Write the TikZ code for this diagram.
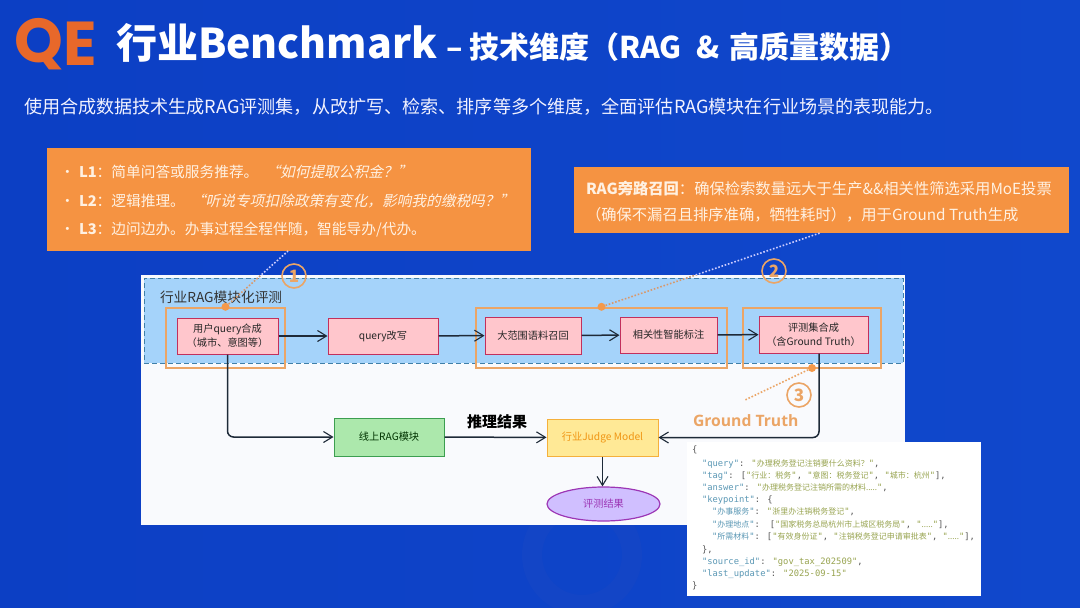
\documentclass[tikz,border=0pt]{standalone}
\usepackage{fontspec}
\usetikzlibrary{arrows.meta,shapes.geometric,calc}
\setmainfont{Noto Sans CJK SC}
\newfontfamily\cjkit[FakeSlant=0.22]{Noto Sans CJK SC}
\newfontfamily\jmono{DejaVu Sans Mono}
\newfontfamily\cj{Noto Sans CJK SC}
\newfontfamily\logof{Poppins}[BoldFont={Poppins Bold}]
\newfontfamily\gtf{Open Sans}
\definecolor{bgblue}{HTML}{0C3FC4}
\definecolor{bgblue2}{HTML}{1048CC}
\definecolor{wmark}{HTML}{1345C6}
\definecolor{logoor}{HTML}{E8682A}
\definecolor{boxor}{HTML}{F59342}
\definecolor{boxtxt}{HTML}{FFF1E2}
\definecolor{panel}{HTML}{F9FAFD}
\definecolor{evalblue}{HTML}{A5D3FA}
\definecolor{dashblue}{HTML}{3F7FA8}
\definecolor{hilite}{HTML}{EBA566}
\definecolor{dotor}{HTML}{F4994A}
\definecolor{arrowk}{HTML}{1E2A38}
\definecolor{pinkf}{HTML}{FFC6CC}
\definecolor{pinkd}{HTML}{C2305C}
\definecolor{keyc}{HTML}{5B98B5}
\definecolor{strc}{HTML}{98A450}
\definecolor{pnc}{HTML}{555555}
\definecolor{greenf}{HTML}{ACE8AC}
\definecolor{greend}{HTML}{3C9E50}
\definecolor{yellowf}{HTML}{FFE996}
\definecolor{yellowd}{HTML}{F5B03C}
\definecolor{yellowt}{HTML}{F09614}
\definecolor{purpf}{HTML}{D0BFFF}
\definecolor{purpd}{HTML}{9C36B5}
\newcommand{\K}[1]{\textcolor{keyc}{#1}}
\newcommand{\St}[1]{\textcolor{strc}{#1}}
\newcommand{\Cj}[1]{{\cj\fontsize{8}{8}\selectfont #1}}
\tikzset{
  txt/.style={inner sep=0pt,outer sep=0pt,anchor=west},
  lead/.style={txt,text=boxtxt,font=\fontsize{14.7}{14.7}\selectfont},
  lead2/.style={txt,text=boxtxt,font=\fontsize{15.3}{15.3}\selectfont},
  logot/.style={txt,text=logoor,font=\logof\bfseries\fontsize{62}{62}\selectfont},
  pinkbox/.style={draw=pinkd,fill=pinkf,line width=1pt,inner sep=0pt,align=center,text=black!85,font=\fontsize{10.2}{14}\selectfont},
  hibox/.style={draw=hilite,line width=2.4pt,fill=none},
  flow/.style={draw=arrowk,line width=1.5pt,-{Straight Barb[length=9pt,width=11pt,line width=1.1pt]}},
  dotline/.style={line width=1.6pt,dash pattern=on 1.6pt off 1.8pt},
  numc/.style={circle,draw=hilite,line width=1.6pt,text=hilite,minimum size=24pt,inner sep=0pt,font=\fontsize{17}{17}\selectfont\bfseries},
  jline/.style={txt,text=pnc,font=\jmono\fontsize{8.8}{8.8}\selectfont},
  hdot/.style={circle,fill=dotor,minimum size=8pt,inner sep=0pt},
}
\begin{document}
\begin{tikzpicture}[x=1pt,y=-1pt]
\useasboundingbox (0,0) rectangle (1080,608);
\shade[left color=bgblue,right color=bgblue2] (0,0) rectangle (1080,608);
\draw[wmark,line width=20pt] (582,555) circle[radius=50pt];
% logo
\node[logot] (logoq) at (14,44) {Q};
\node[logot] (logoe) at (63.5,43.5) {E};
% title
\node[txt,text=white,font=\bfseries\fontsize{41}{41}\selectfont] (title) at (116,43) {行业Benchmark};
\node[txt,text=white,font=\bfseries\fontsize{30}{30}\selectfont] (subt) at (446,47) {– 技术维度（RAG\,\,\,\&\,\,高质量数据）};
\node[txt,text=white!95!blue,font=\fontsize{18.1}{18.1}\selectfont] (intro) at (24,107) {使用合成数据技术生成RAG评测集，从改扩写、检索、排序等多个维度，全面评估RAG模块在行业场景的表现能力。};
% orange boxes
\node[draw=none,fill=boxor,inner sep=0pt,minimum width=484pt,minimum height=103pt] (note1) at (289,199.5) {};
\node[lead] (l1) at (60,172) {\makebox[19pt][l]{•}\textbf{L1}：简单问答或服务推荐。\hspace{7pt}{\cjkit “如何提取公积金？”}};
\node[lead] (l2) at (60,201) {\makebox[19pt][l]{•}\textbf{L2}：逻辑推理。\hspace{6pt}{\cjkit “听说专项扣除政策有变化，影响我的缴税吗？”}};
\node[lead] (l3) at (60,230) {\makebox[19pt][l]{•}\textbf{L3}：边问边办。办事过程全程伴随，智能导办/代办。};
\node[draw=none,fill=boxor,inner sep=0pt,minimum width=495pt,minimum height=66pt] (note2) at (821.5,200) {};
\node[lead2] (r1) at (586,189) {\textbf{RAG旁路召回}：确保检索数量远大于生产\&\&相关性筛选采用MoE投票};
\node[lead2] (r2) at (586,215) {（确保不漏召且排序准确，牺牲耗时），用于Ground Truth生成};
% panel
\node[fill=panel,draw=none,inner sep=0pt,minimum width=764pt,minimum height=250pt] (panel) at (523,400) {};
\node[fill=evalblue,draw=dashblue,dash pattern=on 5pt off 3pt,line width=1pt,inner sep=0pt,minimum width=759pt,minimum height=85pt] (eval) at (523.5,320.5) {};
\node[txt,text=black!80,font=\fontsize{13.7}{13.7}\selectfont] (evallab) at (160,297) {行业RAG模块化评测};
% highlight rects
\node[hibox,inner sep=0pt,minimum width=119pt,minimum height=60pt] (h1) at (225.5,338) {};
\node[hibox,inner sep=0pt,minimum width=251pt,minimum height=60pt] (h2) at (601.5,338) {};
\node[hibox,inner sep=0pt,minimum width=138pt,minimum height=60pt] (h3) at (812,338) {};
% flow boxes
\node[pinkbox,minimum width=101pt,minimum height=36pt] (user) at (227.5,336) {用户query合成\\（城市、意图等）};
\node[pinkbox,minimum width=110pt,minimum height=36pt] (rewrite) at (383,336) {query改写};
\node[pinkbox,minimum width=96pt,minimum height=37pt] (recall) at (533,335.5) {大范围语料召回};
\node[pinkbox,minimum width=97pt,minimum height=36pt] (label) at (668.5,335) {相关性智能标注};
\node[pinkbox,minimum width=109pt,minimum height=37pt] (synth) at (813.5,334.5) {评测集合成\\（含Ground Truth）};
\node[draw=greend,fill=greenf,line width=1pt,inner sep=0pt,minimum width=110pt,minimum height=38pt,text=black!80!green,font=\fontsize{10.2}{14}\selectfont] (online) at (389,437) {线上RAG模块};
\node[draw=yellowd,fill=yellowf,line width=1pt,inner sep=0pt,minimum width=111pt,minimum height=37pt,text=yellowt,font=\fontsize{10.2}{14}\selectfont] (judge) at (602.5,437.5) {行业Judge Model};
\node[ellipse,draw=purpd,fill=purpf,line width=1.2pt,inner sep=0pt,minimum width=113pt,minimum height=34pt,text=purpd,font=\fontsize{10.2}{14}\selectfont] (result) at (603.5,504) {评测结果};
% connectors
\draw[flow] (user) -- (rewrite);
\draw[flow] (rewrite) -- (recall);
\draw[flow] (recall) -- (label);
\draw[flow] (label) -- (synth);
\draw[flow,rounded corners=6pt] (user.south) |- (online.west);
\draw[flow] (online) -- (judge);
\draw[flow] (judge.south) -- (judge.south |- result.north);
\draw[flow,rounded corners=6pt] ([xshift=5.5pt]synth.south) |- (judge.east);
\node[txt,text=black,font=\bfseries\fontsize{15}{15}\selectfont] (infer) at (467,422) {推理结果};
% dots and dotted leaders
\node[hdot] (d1) at (h1.north) {};
\node[hdot] (d2) at (h2.north) {};
\node[hdot] (d3) at (812,368) {};
\coordinate (c1) at (288,251);
\coordinate (c2) at (820,233);
\coordinate (c3) at (745,400);
\draw[dotline,draw=white!80!blue] (d1) -- (c1);
\draw[dotline,draw=white!80!blue] (d2) -- (c2);
\begin{scope}
\clip (141,275) rectangle (905,525);
\draw[dotline,draw=hilite!75!gray] (d1) -- (c1);
\draw[dotline,draw=hilite!75!gray] (d2) -- (c2);
\end{scope}
\draw[dotline,draw=hilite] (d3) -- (c3);
\node[numc] (n1) at (294,276) {1};
\node[numc] (n2) at (774,271) {2};
\node[numc] (n3) at (799,395) {3};
\node[txt,text=hilite,font=\gtf\bfseries\fontsize{15.7}{15.7}\selectfont] (gt) at (693,421) {Ground Truth};
% json
\node[fill=white,draw=none,inner sep=0pt,minimum width=294pt,minimum height=154pt] (jsonbox) at (834,519) {};
\node[jline] (j1) at (692,450) {\{};
\node[jline] (j2) at (702,464) {\K{"query"}: \St{"\Cj{办理税务登记注销要什么资料？}"},};
\node[jline] (j3) at (702,476) {\K{"tag"}: [\St{"\Cj{行业：税务}"}, \St{"\Cj{意图：税务登记}"}, \St{"\Cj{城市：杭州}"}],};
\node[jline] (j4) at (702,488) {\K{"answer"}: \St{"\Cj{办理税务登记注销所需的材料.....}"},};
\node[jline] (j5) at (702,500) {\K{"keypoint"}: \{};
\node[jline] (j6) at (712,512) {\K{"\Cj{办事服务}"}: \St{"\Cj{浙里办注销税务登记}"},};
\node[jline] (j7) at (712,525) {\K{"\Cj{办理地点}"}:\hspace{10pt}[\St{"\Cj{国家税务总局杭州市上城区税务局}"}, \St{"\Cj{.....}"}],};
\node[jline] (j8) at (712,537) {\K{"\Cj{所需材料}"}: [\St{"\Cj{有效身份证}"}, \St{"\Cj{注销税务登记申请审批表}"}, \St{"\Cj{.....}"}],};
\node[jline] (j9) at (702,550) {\},};
\node[jline] (j10) at (702,562) {\K{"source\_id"}: \St{"gov\_tax\_202509"},};
\node[jline] (j11) at (702,574) {\K{"last\_update"}: \St{"2025-09-15"}};
\node[jline] (j12) at (692,586) {\}};
\end{tikzpicture}
\end{document}
